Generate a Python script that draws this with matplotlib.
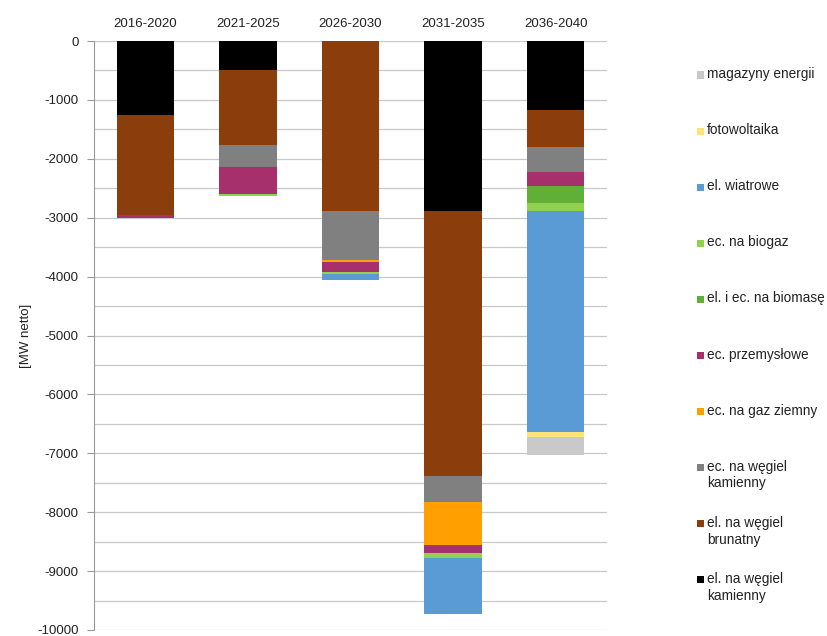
import numpy as np
import matplotlib
matplotlib.use('Agg')
import matplotlib.pyplot as plt
from matplotlib.patches import Rectangle
from matplotlib.ticker import MultipleLocator

plt.rcParams['font.family'] = ['Liberation Sans', 'DejaVu Sans']
plt.rcParams['axes.unicode_minus'] = False

# okresy
periods = ['2016-2020', '2021-2025', '2026-2030', '2031-2035', '2036-2040']

# wycofania mocy [MW netto], kolejnosc jak w stosie (od zera w dol)
el_wegiel_kamienny = [1250, 500, 0, 2880, 1170]
el_wegiel_brunatny = [1700, 1270, 2890, 4510, 630]
ec_wegiel_kamienny = [0, 375, 830, 430, 420]
ec_gaz_ziemny = [0, 0, 40, 730, 0]
ec_przemyslowe = [50, 460, 170, 150, 240]
el_ec_biomasa = [0, 0, 0, 0, 290]
ec_biogaz = [0, 30, 30, 70, 140]
el_wiatrowe = [0, 0, 100, 965, 3750]
fotowoltaika = [0, 0, 0, 0, 80]
magazyny_energii = [0, 0, 0, 0, 310]

series = [
    ('el. na węgiel\nkamienny', el_wegiel_kamienny, '#000000'),
    ('el. na węgiel\nbrunatny', el_wegiel_brunatny, '#8B3D0B'),
    ('ec. na węgiel\nkamienny', ec_wegiel_kamienny, '#808080'),
    ('ec. na gaz ziemny', ec_gaz_ziemny, '#FFA000'),
    ('ec. przemysłowe', ec_przemyslowe, '#A5306B'),
    ('el. i ec. na biomasę', el_ec_biomasa, '#62AF38'),
    ('ec. na biogaz', ec_biogaz, '#92D050'),
    ('el. wiatrowe', el_wiatrowe, '#5B9BD5'),
    ('fotowoltaika', fotowoltaika, '#FFE27A'),
    ('magazyny energii', magazyny_energii, '#C9C9C9'),
]

fig = plt.figure(figsize=(8.28, 6.36), dpi=100)
ax = fig.add_axes([94 / 828, 1 - 630 / 636, (607 - 94) / 828, (630 - 41) / 636])

x = np.arange(len(periods))
bottom = np.zeros(len(periods))
for label, vals, color in series:
    v = -np.array(vals, dtype=float)
    ax.bar(x, v, width=0.56, bottom=bottom, color=color, linewidth=0, zorder=3)
    bottom += v

ax.set_xlim(-0.5, len(periods) - 0.5)
ax.set_ylim(-10000, 0)
ax.yaxis.set_major_locator(MultipleLocator(1000))
ax.yaxis.set_minor_locator(MultipleLocator(500))
ax.grid(axis='y', which='both', color='#C8C8C8', linewidth=0.9, zorder=0)

ax.xaxis.tick_top()
ax.set_xticks(x)
ax.set_xticklabels(periods, fontsize=9.5, color='#222222')
ax.tick_params(axis='x', length=0, pad=8)
ax.tick_params(axis='y', which='major', length=5, color='#999999', labelsize=9.5,
               labelcolor='#222222', pad=6)
ax.tick_params(axis='y', which='minor', length=0)

for s in ['top', 'right', 'bottom']:
    ax.spines[s].set_visible(False)
ax.spines['left'].set_color('#999999')

ax.set_ylabel('[MW netto]', fontsize=9.5, color='#222222', labelpad=4)

# legenda po prawej
leg_x = 697 / 828
y0 = 1 - 75 / 636
step = 56.1 / 636
sq = 7
for i, (label, vals, color) in enumerate(series[::-1]):
    yc = y0 - i * step
    fig.patches.append(Rectangle((leg_x, yc - sq / 2 / 636), sq / 828, sq / 636,
                                 transform=fig.transFigure, facecolor=color,
                                 edgecolor='none'))
    fig.text(leg_x + 10 / 828, yc + 8 / 636, label, fontsize=9.8, color='#222222',
             va='top', ha='left', linespacing=1.25)

fig.savefig('out.png', dpi=100)
